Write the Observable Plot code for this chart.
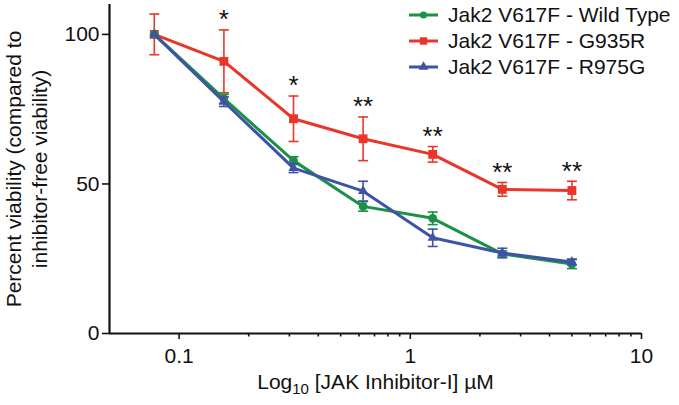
<!DOCTYPE html>
<html><head><meta charset="utf-8">
<script src="https://cdn.jsdelivr.net/npm/d3@7"></script>
<script src="https://cdn.jsdelivr.net/npm/@observablehq/plot@0.6"></script>
<style>
body{margin:0;background:#fff;font-family:"Liberation Sans",Arial,Helvetica,sans-serif;}
#wrap{position:relative;width:679px;height:405px;}
#chart svg{display:block;}
#legend{position:absolute;left:409px;top:2px;font-size:21px;color:#111;}
.row{display:flex;align-items:center;height:26px;white-space:nowrap;}
.row svg{margin-right:10px;display:block;}
</style></head><body>
<div id="wrap"><div id="chart"></div><div id="legend"></div></div>
<script>
const concentrations = [0.078125, 0.15625, 0.3125, 0.625, 1.25, 2.5, 5];
const seriesNames = ["Jak2 V617F - Wild Type", "Jak2 V617F - G935R", "Jak2 V617F - R975G"];
const wildType    = [100, 78.5, 57.8, 42.5, 38.5, 26.6, 23.2];
const wildTypeErr = [0, 1.5, 1.3, 1.6, 2.1, 1.0, 1.5];
const g935r       = [100, 91.0, 71.8, 65.1, 59.9, 48.2, 47.8];
const g935rErr    = [6.8, 10.5, 7.6, 7.3, 2.6, 2.3, 3.1];
const r975g       = [100, 77.5, 55.3, 47.6, 32.0, 26.9, 23.9];
const r975gErr    = [0, 1.6, 1.5, 3.3, 2.9, 1.6, 1.0];
const significance = ["", "*", "*", "**", "**", "**", "**"];
const xTicks = [0.1, 1, 10];
const xMinorTicks = [0.2, 0.3, 0.4, 0.5, 0.6, 0.7, 0.8, 0.9, 2, 3, 4, 5, 6, 7, 8, 9];
const yTicks = [0, 50, 100];
const xDomain = [0.05, 10];
const yDomain = [0, 110];
const colors = ["#1a9146", "#e8362b", "#3e53a6"];
const symbolNames = ["circle", "square", "triangle"];
const markerR = [4.4, 5.0, 3.8];
const xTitle = "Log10 [JAK Inhibitor-I] µM";
const yTitle = "Percent viability (compared to\ninhibitor-free viability)";

const values = [wildType, g935r, r975g];
const errors = [wildTypeErr, g935rErr, r975gErr];
const rows = values.map((vals, s) => vals.map((v, i) => ({series: seriesNames[s], x: concentrations[i], y: v, err: errors[s][i], sig: significance[i]})));

const capSymbol = {draw(ctx, size) {const w = Math.sqrt(size / Math.PI); ctx.moveTo(-w, 0); ctx.lineTo(w, 0);}};

const seriesMarks = [];
for (const s of [1, 0, 2]) {
  const d = rows[s];
  const withErr = d.filter(r => r.err > 0);
  seriesMarks.push(
    Plot.ruleX(withErr, {x: "x", y1: r => r.y - r.err, y2: r => r.y + r.err, stroke: colors[s], strokeWidth: 1.6}),
    Plot.dot(withErr, {x: "x", y: r => r.y + r.err, symbol: capSymbol, r: 5, stroke: colors[s], strokeWidth: 1.6}),
    Plot.dot(withErr, {x: "x", y: r => r.y - r.err, symbol: capSymbol, r: 5, stroke: colors[s], strokeWidth: 1.6}),
    Plot.lineY(d, {x: "x", y: "y", stroke: colors[s], strokeWidth: 3}),
    Plot.dot(d, {x: "x", y: "y", symbol: symbolNames[s], r: markerR[s], fill: colors[s], stroke: "none"})
  );
}

const chart = Plot.plot({
  width: 679, height: 405,
  marginLeft: 109, marginRight: 38, marginTop: 4, marginBottom: 72,
  style: {fontFamily: '"Liberation Sans", Arial, Helvetica, sans-serif', fontSize: "21px", color: "#111", background: "#fff"},
  x: {type: "log", domain: xDomain},
  y: {domain: yDomain},
  marks: [
    Plot.axisY({ticks: yTicks, tickSize: 7, tickPadding: 3, strokeWidth: 1.6, label: null, tickFormat: d => String(d)}),
    Plot.axisX({ticks: xTicks, tickSize: 6, tickPadding: 9, strokeWidth: 1.6, label: null, tickFormat: d => String(d)}),
    Plot.axisX({ticks: xMinorTicks, tickSize: 3.5, strokeWidth: 1.6, label: null, tickFormat: () => ""}),
    Plot.ruleY([yDomain[0]], {strokeWidth: 2.2, stroke: "#111"}),
    Plot.ruleX([xDomain[0]], {strokeWidth: 2.2, stroke: "#111"}),
    ...seriesMarks,
    Plot.text(rows[1].filter(r => r.sig), {x: "x", y: r => r.y + r.err, text: "sig", dy: -10, fontSize: 26, fill: "#111"}),
    Plot.text([yTitle], {frameAnchor: "left", textAnchor: "middle", lineAnchor: "middle", rotate: -90, dx: -84, fontSize: 21, lineHeight: 1.24, fill: "#111", className: "ytitle"}),
    Plot.text([xTitle], {frameAnchor: "bottom", dy: 55, fontSize: 21, fill: "#111", className: "xtitle"})
  ]
});
document.getElementById("chart").appendChild(chart);

// subscript for the "10" in the x title
d3.select(chart).selectAll("g.xtitle text").each(function() {
  const t = d3.select(this);
  const full = t.text();
  const rest = full.replace(/^Log10/, "");
  t.text(null);
  t.append("tspan").text("Log");
  t.append("tspan").attr("font-size", 15).attr("dy", 5).text("10");
  t.append("tspan").attr("dy", -5).text(rest);
});

// legend
const legend = d3.select("#legend");
const symMap = {circle: d3.symbolCircle, square: d3.symbolSquare, triangle: d3.symbolTriangle};
const legendSizes = [40, 55, 42];
seriesNames.forEach((name, s) => {
  const row = legend.append("div").attr("class", "row");
  const svg = row.append("svg").attr("width", 29).attr("height", 14);
  svg.append("line").attr("x1", 0).attr("x2", 29).attr("y1", 7).attr("y2", 7).attr("stroke", colors[s]).attr("stroke-width", 3);
  svg.append("path").attr("transform", "translate(14.5,7)").attr("d", d3.symbol(symMap[symbolNames[s]], legendSizes[s])()).attr("fill", colors[s]);
  row.append("span").text(name);
});
</script>
</body></html>
